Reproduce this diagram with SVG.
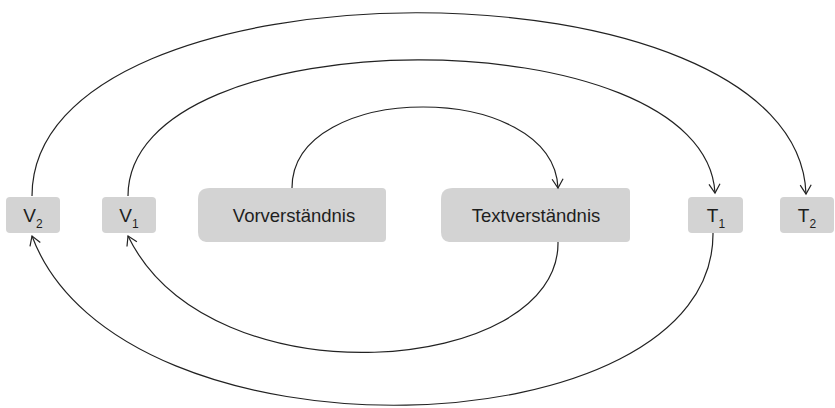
<svg xmlns="http://www.w3.org/2000/svg" width="835" height="408" viewBox="0 0 835 408">
<style>
.box{fill:#d3d3d3}
.lbl{font-family:"Liberation Sans",Arial,sans-serif;font-size:18.5px;fill:#1e1e1e;text-anchor:middle}
.sm{font-size:19px}
.sub{font-size:12px}
.c{fill:none;stroke:#222;stroke-width:1.2}
</style>
<defs>
<marker id="arr" markerUnits="userSpaceOnUse" markerWidth="20" markerHeight="20" viewBox="-10 -10 20 20" refX="0" refY="0" orient="auto">
<path d="M-9,-5.5 L0,0 L-9,5.5" fill="none" stroke="#222" stroke-width="1.2"/>
</marker>
</defs>
<g id="V2"><rect class="box" x="6" y="197" width="54" height="36" rx="4"/><text class="lbl sm" x="33" y="222">V<tspan class="sub" dy="6">2</tspan></text></g>
<g id="V1"><rect class="box" x="102" y="197" width="54" height="36" rx="4"/><text class="lbl sm" x="129" y="222">V<tspan class="sub" dy="6">1</tspan></text></g>
<g id="Vorverstaendnis"><path class="box" d="M210,188 L382,188 Q386,188 386,192 L386,238 Q386,242 382,242 L206,242 Q198,241 198,232 L198,199 Q198,188 210,188 Z"/><text class="lbl" x="294" y="222">Vorverständnis</text></g>
<g id="Textverstaendnis"><path class="box" d="M453,188 L626,188 Q630,188 630,192 L630,238 Q630,242 626,242 L449,242 Q441,241 441,232 L441,199 Q441,188 453,188 Z"/><text class="lbl" x="536" y="222">Textverständnis</text></g>
<g id="T1"><rect class="box" x="688" y="197" width="55" height="36" rx="4"/><text class="lbl sm" x="716" y="222">T<tspan class="sub" dy="6">1</tspan></text></g>
<g id="T2"><rect class="box" x="780" y="197" width="54" height="36" rx="4"/><text class="lbl sm" x="807" y="222">T<tspan class="sub" dy="6">2</tspan></text></g>
<g id="connectors">
<path class="c" d="M292,188 C292,80 553,80 558,188" marker-end="url(#arr)"/>
<path class="c" d="M128,196 C128,15 705,15 715,193" marker-end="url(#arr)"/>
<path class="c" d="M32,196 C32,-48 798,-48 806,194" marker-end="url(#arr)"/>
<path class="c" d="M558,242 C560,375 210,405 128,236" marker-end="url(#arr)"/>
<path class="c" d="M713,233 C715,452 120,472 32,236" marker-end="url(#arr)"/>
</g>
</svg>
